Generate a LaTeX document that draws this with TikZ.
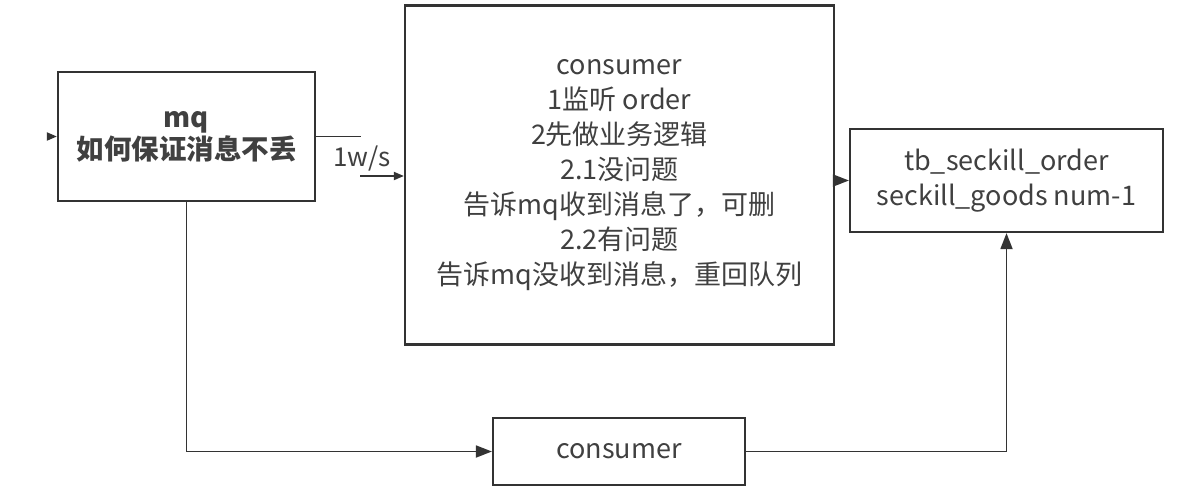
\documentclass[tikz,border=0pt]{standalone}
\usepackage{fontspec}
\setmainfont{Noto Sans CJK SC}
\usetikzlibrary{arrows.meta}
\definecolor{ln}{HTML}{333333}
\definecolor{tx}{HTML}{404040}
\begin{document}
\begin{tikzpicture}[x=1pt,y=-1pt,
  box/.style={draw=ln, line width=2.2pt, fill=white, align=center, text=tx, inner sep=0pt,
    font=\fontsize{27}{35}\selectfont},
  conn/.style={draw=ln, line width=1.8pt},
  tip/.style={-{Triangle[length=16pt,width=12pt]}},
  smalltip/.style={-{Triangle[length=10pt,width=8pt]}},
  lbl/.style={text=tx, inner sep=0pt, font=\fontsize{26}{30}\selectfont}]
\useasboundingbox (0,0) rectangle (1185,496);
\node[box, minimum width=257pt, minimum height=129pt, font=\fontsize{27.5}{32}\selectfont\bfseries] (mq) at (186.5,136.5) {mq\\如何保证消息不丢};
\node[box, minimum width=429pt, minimum height=339pt] (big) at (619.5,175) {consumer\\1监听 order\\2先做业务逻辑\\2.1没问题\\告诉mq收到消息了，可删\\2.2有问题\\告诉mq没收到消息，重回队列};
\node[box, minimum width=313pt, minimum height=103pt] (tb) at (1006.5,180.5) {tb\_seckill\_order\\seckill\_goods num-1};
\node[box, minimum width=252pt, minimum height=67pt] (c2) at (619,451.5) {consumer};
\coordinate (inL) at (48,136.5);
\draw[conn, smalltip] (inL) -- (mq.west);
\coordinate (m1) at (361,136.5);
\draw[conn] (mq.east) -- (m1);
\coordinate (m2) at (360,176);
\draw[conn, smalltip] (m2) -- (m2 -| big.west);
\node[lbl] (rate) at (362,158) {1w/s};
\draw[conn, tip] (tb.west -| big.east) -- (tb.west);
\draw[conn, tip] (mq.south) |- (c2.west);
\draw[conn, tip] (c2.east) -| (tb.south);
\end{tikzpicture}
\end{document}
